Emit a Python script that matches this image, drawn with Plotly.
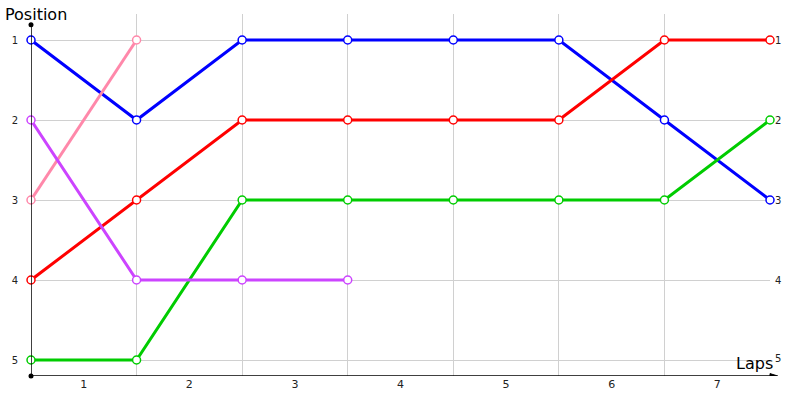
import plotly.graph_objects as go

laps = [0, 1, 2, 3, 4, 5, 6, 7]
blue = [1, 2, 1, 1, 1, 1, 2, 3]
red = [4, 3, 2, 2, 2, 2, 1, 1]
green = [5, 5, 3, 3, 3, 3, 3, 2]
pink = [3, 1]
purple = [2, 4, 4, 4]
lap_labels = ["1", "2", "3", "4", "5", "6", "7"]
positions = [1, 2, 3, 4, 5]
right_labels = ["1", "2", "3", "4", "5"]

series = [
    ("blue", blue, "#0000ff"),
    ("red", red, "#ff0000"),
    ("green", green, "#00cc00"),
    ("pink", pink, "#ff88aa"),
    ("purple", purple, "#cc44ff"),
]

fig = go.Figure()
for name, vals, col in series:
    fig.add_trace(go.Scatter(
        x=laps[:len(vals)], y=vals, mode="lines+markers", name=name,
        line=dict(color=col, width=3),
        marker=dict(symbol="circle", size=8, color="white", line=dict(color=col, width=1.5)),
        cliponaxis=False,
    ))

# axes lines
fig.add_shape(type="line", xref="x", yref="y", x0=0, x1=0, y0=5.2, y1=0.81,
              line=dict(color="black", width=1.5))
fig.add_shape(type="line", xref="paper", yref="y", x0=0, x1=1.008, y0=5.2, y1=5.2,
              line=dict(color="black", width=1.5))
fig.add_shape(type="path", xref="paper", yref="y",
              path="M 1.0 5.17 L 1.0105 5.2 L 1.0 5.23 Z",
              fillcolor="black", line=dict(color="black", width=1))
fig.add_trace(go.Scatter(x=[0, 0], y=[0.81, 5.2], mode="markers",
                         marker=dict(color="black", size=5), cliponaxis=False, showlegend=False,
                         hoverinfo="skip"))

# right labels
for p, t in zip(positions, right_labels):
    fig.add_annotation(xref="x", yref="y", x=7, y=p, text=t, showarrow=False, xanchor="left",
                       xshift=3, yshift=(2 if p == 5 else 0), font=dict(size=10, color="#222"))

fig.add_annotation(xref="paper", yref="paper", x=-0.038, y=1.0, text="Position", showarrow=False,
                   xanchor="left", yanchor="middle", font=dict(size=16, color="black"), yshift=0)
fig.add_annotation(xref="paper", yref="paper", x=1.0068, y=0.0, text="Laps", showarrow=False,
                   xanchor="right", yanchor="bottom", font=dict(size=16, color="black"), yshift=1)

fig.update_layout(
    width=800, height=400, showlegend=False,
    paper_bgcolor="white", plot_bgcolor="white",
    margin=dict(l=31, r=30, t=14, b=24, autoexpand=False),
    font=dict(family="DejaVu Sans", color="#222"),
    xaxis=dict(range=[0, 7], tickvals=[0.5, 1.5, 2.5, 3.5, 4.5, 5.5, 6.5], ticktext=lap_labels,
               showgrid=False, zeroline=False, showline=False, ticks="", automargin=False,
               tickfont=dict(size=11, color="#222"),
               minor=dict(tickvals=laps, showgrid=True, gridcolor="#d0d0d0", gridwidth=1, ticks="")),
    yaxis=dict(range=[5.2, 0.675], tickvals=positions, ticktext=[str(p) for p in positions],
               showgrid=True, gridcolor="#d0d0d0", zeroline=False, showline=False, ticks="",
               automargin=False,
               ticklabelstandoff=12, tickfont=dict(size=10, color="#222")),
)

fig.write_html("out.html", post_script="document.body.style.margin='0';",
               config={"displayModeBar": False})
